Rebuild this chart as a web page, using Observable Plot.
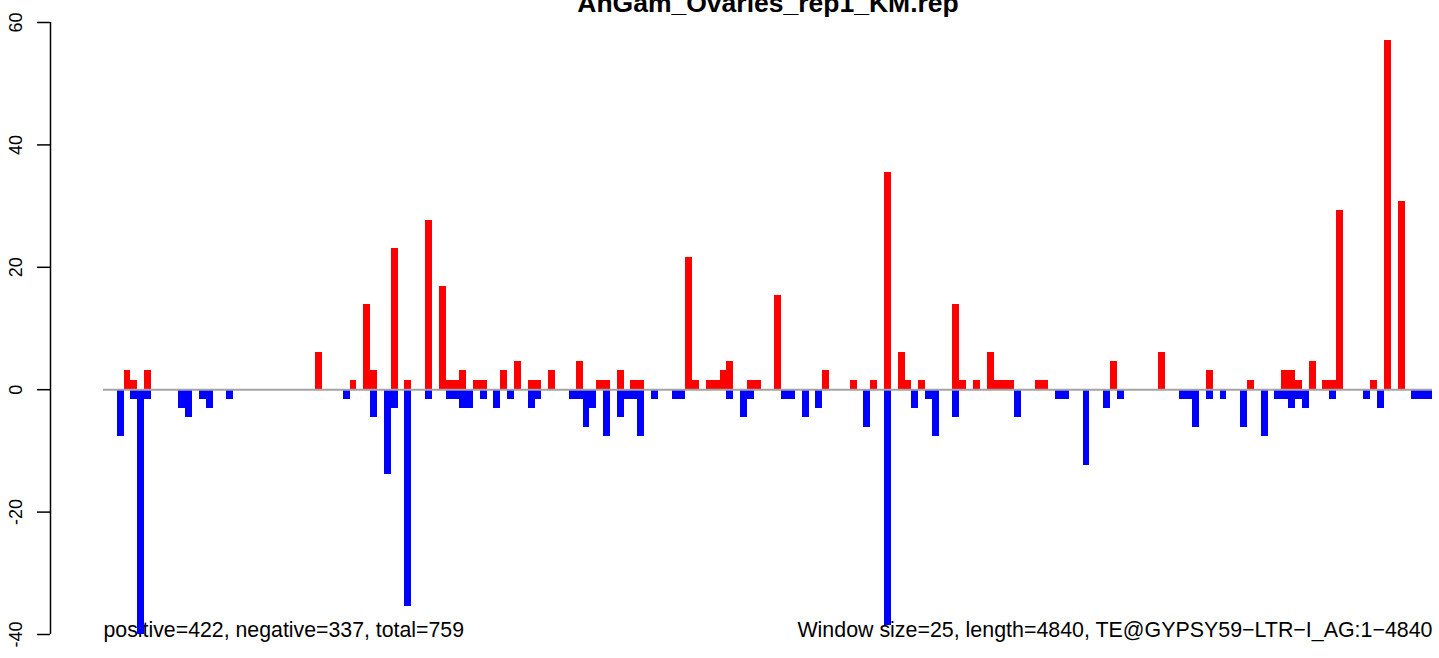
<!DOCTYPE html>
<html>
<head>
<meta charset="utf-8">
<script src="https://cdn.jsdelivr.net/npm/d3@7"></script>
<script src="https://cdn.jsdelivr.net/npm/@observablehq/plot@0.6"></script>
<style>
  html, body { margin: 0; padding: 0; background: #fff; }
  #chart svg { display: block; }
</style>
</head>
<body>
<div id="chart"></div>
<script>
const title = "AnGam_Ovaries_rep1_KM.rep";
const footLeft = "positive=422, negative=337, total=759";
const footRight = "Window size=25, length=4840, TE@GYPSY59\u2212LTR\u2212I_AG:1\u22124840";
const nWindows = 194;
const yTicks = [-40, -20, 0, 20, 40, 60];

const posBin = [3,4,6,31,36,38,39,42,44,47,49,50,51,52,54,55,58,60,62,63,65,69,72,73,75,77,78,85,86,88,89,90,91,94,95,98,105,109,112,114,116,117,119,124,125,127,129,130,131,132,136,137,147,154,161,167,172,173,174,176,178,179,180,185,187,189];
const posValue = [3.08,1.54,3.08,6.16,1.54,13.86,3.08,23.1,1.54,27.72,16.94,1.54,1.54,3.08,1.54,1.54,3.08,4.62,1.54,1.54,3.08,4.62,1.54,1.54,3.08,1.54,1.54,21.56,1.54,1.54,1.54,3.08,4.62,1.54,1.54,15.4,3.08,1.54,1.54,35.42,6.16,1.54,1.54,13.86,1.54,1.54,6.16,1.54,1.54,1.54,1.54,1.54,4.62,6.16,3.08,1.54,3.08,3.08,1.54,4.62,1.54,1.54,29.26,1.54,56.98,30.8];

const negBin = [2,4,5,6,11,12,14,15,18,35,39,41,42,44,47,50,51,52,53,55,57,59,62,63,68,69,70,71,73,75,76,77,78,80,83,84,91,93,94,99,100,102,104,111,114,118,120,121,124,133,139,140,143,146,148,157,158,159,161,163,166,169,171,172,173,174,175,179,184,186,191,192,193];
const negValue = [7.7,1.54,40.04,1.54,3.08,4.62,1.54,3.08,1.54,1.54,4.62,13.86,3.08,35.42,1.54,1.54,1.54,3.08,3.08,1.54,3.08,1.54,3.08,1.54,1.54,1.54,6.16,3.08,7.7,4.62,1.54,1.54,7.7,1.54,1.54,1.54,1.54,4.62,1.54,1.54,1.54,4.62,3.08,6.16,38.5,3.08,1.54,7.7,4.62,4.62,1.54,1.54,12.32,3.08,1.54,1.54,1.54,6.16,1.54,1.54,6.16,7.7,1.54,1.54,3.08,1.54,3.08,1.54,1.54,3.08,1.54,1.54,1.54];

const posRows = posBin.map((b, i) => ({bin: b, value: posValue[i]}));
const negRows = negBin.map((b, i) => ({bin: b, value: -negValue[i]}));

const font = "'Liberation Sans', Arial, Helvetica, sans-serif";

const chart = Plot.plot({
  width: 1439,
  height: 658,
  marginLeft: 103,
  marginRight: 7,
  marginTop: 22,
  marginBottom: 24,
  style: {fontFamily: font, background: "#fff", overflow: "visible"},
  x: {domain: [0, nWindows], axis: null},
  y: {domain: [-40, 60], axis: null},
  marks: [
    Plot.text([footLeft], {text: d => d, frameAnchor: "bottom-left", textAnchor: "start", lineAnchor: "bottom", dy: 2, fontSize: 21.3, fill: "#000"}),
    Plot.text([footRight], {text: d => d, frameAnchor: "bottom-right", textAnchor: "end", lineAnchor: "bottom", dy: 2, fontSize: 21.4, fill: "#000"}),
    Plot.rect(posRows, {x1: d => d.bin, x2: d => d.bin + 1, y1: 0, y2: d => d.value, fill: "#ff0000", shapeRendering: "crispEdges"}),
    Plot.rect(negRows, {x1: d => d.bin, x2: d => d.bin + 1, y1: 0, y2: d => d.value, fill: "#0000ff", shapeRendering: "crispEdges"}),
    Plot.ruleY([0], {stroke: "#a3a3a3", strokeWidth: 2}),
    Plot.ruleX([0], {dx: -53, stroke: "#000", strokeWidth: 1.5}),
    Plot.axisY({ticks: yTicks, tickSize: 13, tickFormat: () => "", dx: -53, stroke: "#000", strokeWidth: 1.5}),
    Plot.text(yTicks, {y: d => d, text: d => String(d), frameAnchor: "left", dx: -82, rotate: -90, textAnchor: "middle", lineAnchor: "bottom", fontSize: 18, fill: "#000"}),
    Plot.text([title], {text: d => d, frameAnchor: "top", lineAnchor: "bottom", dy: -11, fontSize: 26.5, fontWeight: "bold", fill: "#000"})
  ]
});
document.getElementById("chart").appendChild(chart);
</script>
</body>
</html>
